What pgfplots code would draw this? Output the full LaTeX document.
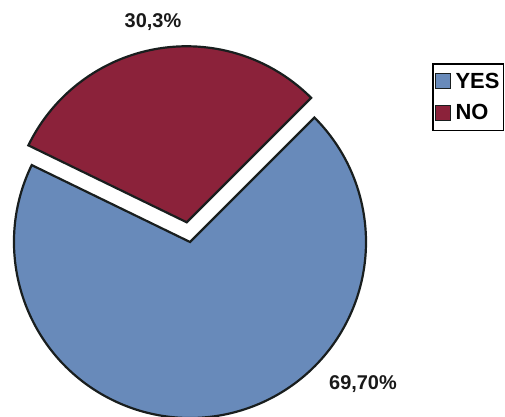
\documentclass[border=0pt]{standalone}
\usepackage{pgfplots}
\pgfplotsset{compat=1.18}
\usepackage{pgfplotstable}
\usetikzlibrary{calc}
\usepackage{fontspec}
\setmainfont{Liberation Sans}
\definecolor{pieblue}{RGB}{104,138,186}
\definecolor{piered}{RGB}{139,34,58}
\definecolor{pieline}{RGB}{25,30,30}
\pgfplotstableread{
label value
YES 69.7
NO 30.3
}\piedata
\pgfplotstablegetelem{0}{value}\of\piedata \let\vyes\pgfplotsretval
\pgfplotstablegetelem{1}{value}\of\piedata \let\vno\pgfplotsretval
\pgfmathsetmacro{\rstart}{45}
\pgfmathsetmacro{\rend}{45+\vno*3.6}
\pgfmathsetmacro{\bend}{\rend+\vyes*3.6}
\pgfmathsetmacro{\rmid}{(\rstart+\rend)/2}
\begin{document}
\begin{tikzpicture}
\path[use as bounding box] (0,0) rectangle (505bp,417bp);
\begin{axis}[
  at={(0,0)}, anchor=origin,
  x=1bp, y=1bp,
  xmin=0, xmax=505, ymin=0, ymax=417,
  hide axis, clip=false,
  legend style={at={(axis cs:432,354)}, anchor=north west,
    draw=black, line width=1.6bp,
    font=\bfseries\fontsize{22}{25}\selectfont,
    inner xsep=2bp, inner ysep=7bp, row sep=11bp, column sep=3bp,
    cells={anchor=west}},
  legend image code/.code={\draw[#1, line width=0.8bp] (0bp,-7.5bp) rectangle (15bp,7.5bp);},
]
\addlegendimage{fill=pieblue, draw=pieline}
\addlegendentry{YES\hspace{8bp}}
\addlegendimage{fill=piered, draw=pieline}
\addlegendentry{NO}
% YES slice
\draw[fill=pieblue, draw=pieline, line width=2.2bp]
  (axis cs:190,175) -- ++(\rend:176bp) arc[start angle=\rend, end angle=\bend, radius=176bp] -- cycle;
% NO slice (exploded)
\draw[fill=piered, draw=pieline, line width=2.2bp]
  ($(axis cs:190,175)+(\rmid:20bp)$) -- ++(\rstart:176bp) arc[start angle=\rstart, end angle=\rend, radius=176bp] -- cycle;
\node[font=\bfseries\fontsize{20}{22}\selectfont, text=black!90] at (axis cs:153,395) {30,3\%};
\node[font=\bfseries\fontsize{20}{22}\selectfont, text=black!90] at (axis cs:363,33) {69,70\%};
\end{axis}
\end{tikzpicture}
\end{document}
